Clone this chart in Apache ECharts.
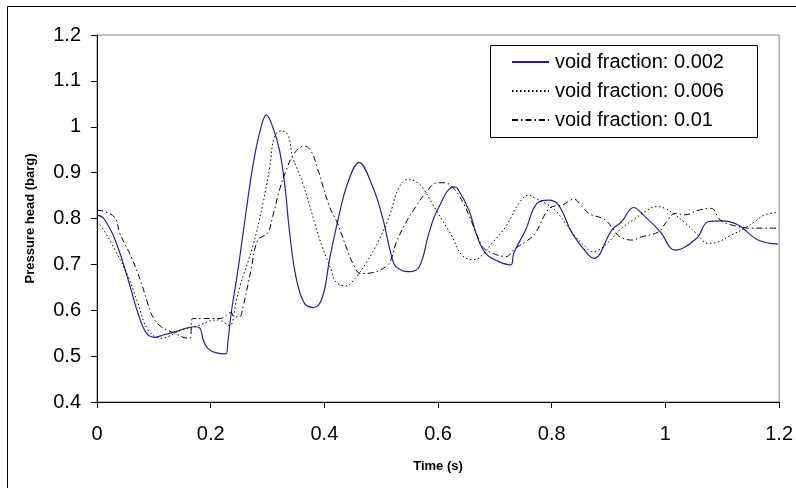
<!DOCTYPE html>
<html>
<head>
<meta charset="utf-8">
<script src="https://cdn.jsdelivr.net/npm/echarts@6/dist/echarts.min.js"></script>
<style>
html,body{margin:0;padding:0;background:#fff;}
#chart{width:796px;height:488px;}
</style>
</head>
<body>
<div id="chart"></div>
<script>
// ---- data ----
const seriesNames = ['void fraction: 0.002', 'void fraction: 0.006', 'void fraction: 0.01'];
const xTicks = [0, 0.2, 0.4, 0.6, 0.8, 1, 1.2];
const yTicks = [0.4, 0.5, 0.6, 0.7, 0.8, 0.9, 1, 1.1, 1.2];

const t002 = [0, 0.012, 0.032, 0.055, 0.072, 0.087, 0.102, 0.116, 0.137, 0.172, 0.181, 0.187, 0.195, 0.21, 0.227, 0.230, 0.236, 0.248, 0.257, 0.274, 0.286, 0.298, 0.309, 0.321, 0.330, 0.339, 0.350, 0.365, 0.382, 0.397, 0.409, 0.424, 0.441, 0.461, 0.485, 0.502, 0.517, 0.526, 0.549, 0.567, 0.584, 0.599, 0.628, 0.634, 0.654, 0.669, 0.684, 0.707, 0.728, 0.733, 0.754, 0.774, 0.795, 0.812, 0.836, 0.865, 0.874, 0.906, 0.923, 0.944, 0.964, 0.991, 1.017, 1.055, 1.075, 1.099, 1.128, 1.163, 1.198];
const v002 = [0.808, 0.800, 0.753, 0.666, 0.594, 0.550, 0.541, 0.546, 0.553, 0.564, 0.561, 0.535, 0.517, 0.507, 0.505, 0.528, 0.593, 0.688, 0.768, 0.913, 0.986, 1.026, 1.000, 0.949, 0.877, 0.768, 0.673, 0.615, 0.606, 0.630, 0.710, 0.797, 0.877, 0.922, 0.869, 0.804, 0.724, 0.695, 0.684, 0.695, 0.768, 0.819, 0.869, 0.866, 0.819, 0.760, 0.724, 0.706, 0.699, 0.724, 0.775, 0.833, 0.840, 0.829, 0.768, 0.720, 0.713, 0.775, 0.793, 0.824, 0.804, 0.771, 0.731, 0.757, 0.793, 0.795, 0.786, 0.753, 0.744];

const t006 = [0, 0.008, 0.032, 0.055, 0.072, 0.090, 0.113, 0.149, 0.172, 0.212, 0.233, 0.245, 0.251, 0.274, 0.292, 0.304, 0.312, 0.324, 0.336, 0.344, 0.362, 0.385, 0.396, 0.412, 0.420, 0.438, 0.449, 0.473, 0.496, 0.514, 0.532, 0.549, 0.561, 0.572, 0.589, 0.607, 0.625, 0.642, 0.663, 0.675, 0.695, 0.719, 0.742, 0.760, 0.771, 0.789, 0.806, 0.824, 0.842, 0.859, 0.870, 0.882, 0.900, 0.923, 0.947, 0.964, 0.984, 0.999, 1.017, 1.035, 1.054, 1.075, 1.093, 1.116, 1.140, 1.157, 1.175, 1.198];
const v006 = [0.793, 0.782, 0.731, 0.673, 0.615, 0.557, 0.539, 0.557, 0.564, 0.579, 0.567, 0.620, 0.651, 0.739, 0.833, 0.913, 0.978, 0.991, 0.982, 0.935, 0.877, 0.782, 0.739, 0.688, 0.662, 0.653, 0.662, 0.702, 0.753, 0.804, 0.869, 0.886, 0.880, 0.869, 0.834, 0.797, 0.760, 0.720, 0.710, 0.717, 0.746, 0.782, 0.833, 0.851, 0.844, 0.833, 0.818, 0.790, 0.760, 0.739, 0.728, 0.731, 0.749, 0.779, 0.800, 0.815, 0.826, 0.822, 0.808, 0.790, 0.768, 0.746, 0.749, 0.764, 0.779, 0.793, 0.808, 0.813];

const t010 = [0, 0.014, 0.032, 0.040, 0.060, 0.078, 0.089, 0.098, 0.113, 0.137, 0.160, 0.164, 0.168, 0.216, 0.236, 0.240, 0.250, 0.257, 0.271, 0.283, 0.300, 0.309, 0.321, 0.333, 0.347, 0.365, 0.377, 0.388, 0.409, 0.423, 0.438, 0.453, 0.464, 0.485, 0.508, 0.517, 0.526, 0.543, 0.561, 0.578, 0.599, 0.611, 0.625, 0.643, 0.660, 0.678, 0.689, 0.719, 0.736, 0.754, 0.771, 0.789, 0.801, 0.818, 0.839, 0.853, 0.865, 0.870, 0.894, 0.909, 0.920, 0.941, 0.958, 0.988, 1.002, 1.017, 1.035, 1.058, 1.081, 1.096, 1.116, 1.151, 1.198];
const v010 = [0.818, 0.815, 0.801, 0.768, 0.717, 0.659, 0.616, 0.586, 0.564, 0.550, 0.539, 0.539, 0.582, 0.582, 0.595, 0.587, 0.585, 0.608, 0.688, 0.753, 0.768, 0.804, 0.862, 0.906, 0.942, 0.958, 0.946, 0.909, 0.826, 0.790, 0.739, 0.695, 0.680, 0.682, 0.695, 0.710, 0.746, 0.790, 0.826, 0.855, 0.878, 0.878, 0.869, 0.837, 0.790, 0.739, 0.728, 0.717, 0.735, 0.749, 0.768, 0.811, 0.826, 0.829, 0.842, 0.826, 0.811, 0.808, 0.797, 0.775, 0.760, 0.753, 0.760, 0.771, 0.793, 0.811, 0.808, 0.818, 0.822, 0.797, 0.786, 0.779, 0.779];

function pairs(ts, vs) { return ts.map((t, i) => [t, vs[i]]); }

const chart = echarts.init(document.getElementById('chart'), null, { renderer: 'canvas' });
const FONT = 'Liberation Sans, Arial, sans-serif';

chart.setOption({
  animation: false,
  backgroundColor: '#fff',
  textStyle: { fontFamily: FONT },
  grid: { left: 97, right: 15, top: 35, bottom: 86, show: true, borderColor: '#808080', borderWidth: 1 },
  graphic: [
    { type: 'rect', shape: { x: 7.5, y: 6.5, width: 820, height: 520 }, style: { fill: 'none', stroke: '#000', lineWidth: 1 }, silent: true },
    { type: 'rect', shape: { x: 490.5, y: 45.5, width: 267, height: 92 }, style: { fill: '#fff', stroke: '#000', lineWidth: 1 }, silent: true, z: 5 }
  ],
  legend: {
    data: seriesNames,
    orient: 'vertical',
    left: 511,
    top: 52,
    padding: 0,
    itemWidth: 37,
    itemHeight: 14,
    itemGap: 9,
    z: 10,
    itemStyle: { opacity: 0 },
    textStyle: { fontFamily: FONT, fontSize: 20, color: '#000', lineHeight: 20, padding: [0, 0, 0, 1] }
  },
  xAxis: {
    type: 'value',
    min: xTicks[0],
    max: xTicks[xTicks.length - 1],
    interval: 0.2,
    name: 'Time (s)',
    nameLocation: 'middle',
    nameGap: 58,
    nameTextStyle: { fontFamily: FONT, fontSize: 13, fontWeight: 'bold', color: '#000' },
    axisLine: { show: true, lineStyle: { color: '#000', width: 1 } },
    axisTick: { show: true, inside: false, length: 6, lineStyle: { color: '#000' } },
    axisLabel: { fontFamily: FONT, fontSize: 20, color: '#000', margin: 22 },
    splitLine: { show: false }
  },
  yAxis: {
    type: 'value',
    min: yTicks[0],
    max: yTicks[yTicks.length - 1],
    interval: 0.1,
    name: 'Pressure head (barg)',
    nameLocation: 'middle',
    nameGap: 60,
    nameTextStyle: { fontFamily: FONT, fontSize: 13, fontWeight: 'bold', color: '#000' },
    axisLine: { show: true, lineStyle: { color: '#000', width: 1 } },
    axisTick: { show: true, inside: false, length: 6, lineStyle: { color: '#000' } },
    axisLabel: { fontFamily: FONT, fontSize: 20, color: '#000', margin: 16 },
    splitLine: { show: false }
  },
  series: [
    {
      name: seriesNames[0], type: 'line', data: pairs(t002, v002),
      symbol: 'none', smooth: 0.4,
      lineStyle: { color: '#22229c', width: 1.2, type: 'solid' },
      itemStyle: { color: '#22229c' }
    },
    {
      name: seriesNames[1], type: 'line', data: pairs(t006, v006),
      symbol: 'none', smooth: 0.4,
      lineStyle: { color: '#000', width: 1, type: [1.5, 2.5] },
      itemStyle: { color: '#000' }
    },
    {
      name: seriesNames[2], type: 'line', data: pairs(t010, v010),
      symbol: 'none', smooth: 0.4,
      lineStyle: { color: '#000', width: 1, type: [6, 3, 1.5, 3] },
      itemStyle: { color: '#000' }
    }
  ]
});
</script>
</body>
</html>
